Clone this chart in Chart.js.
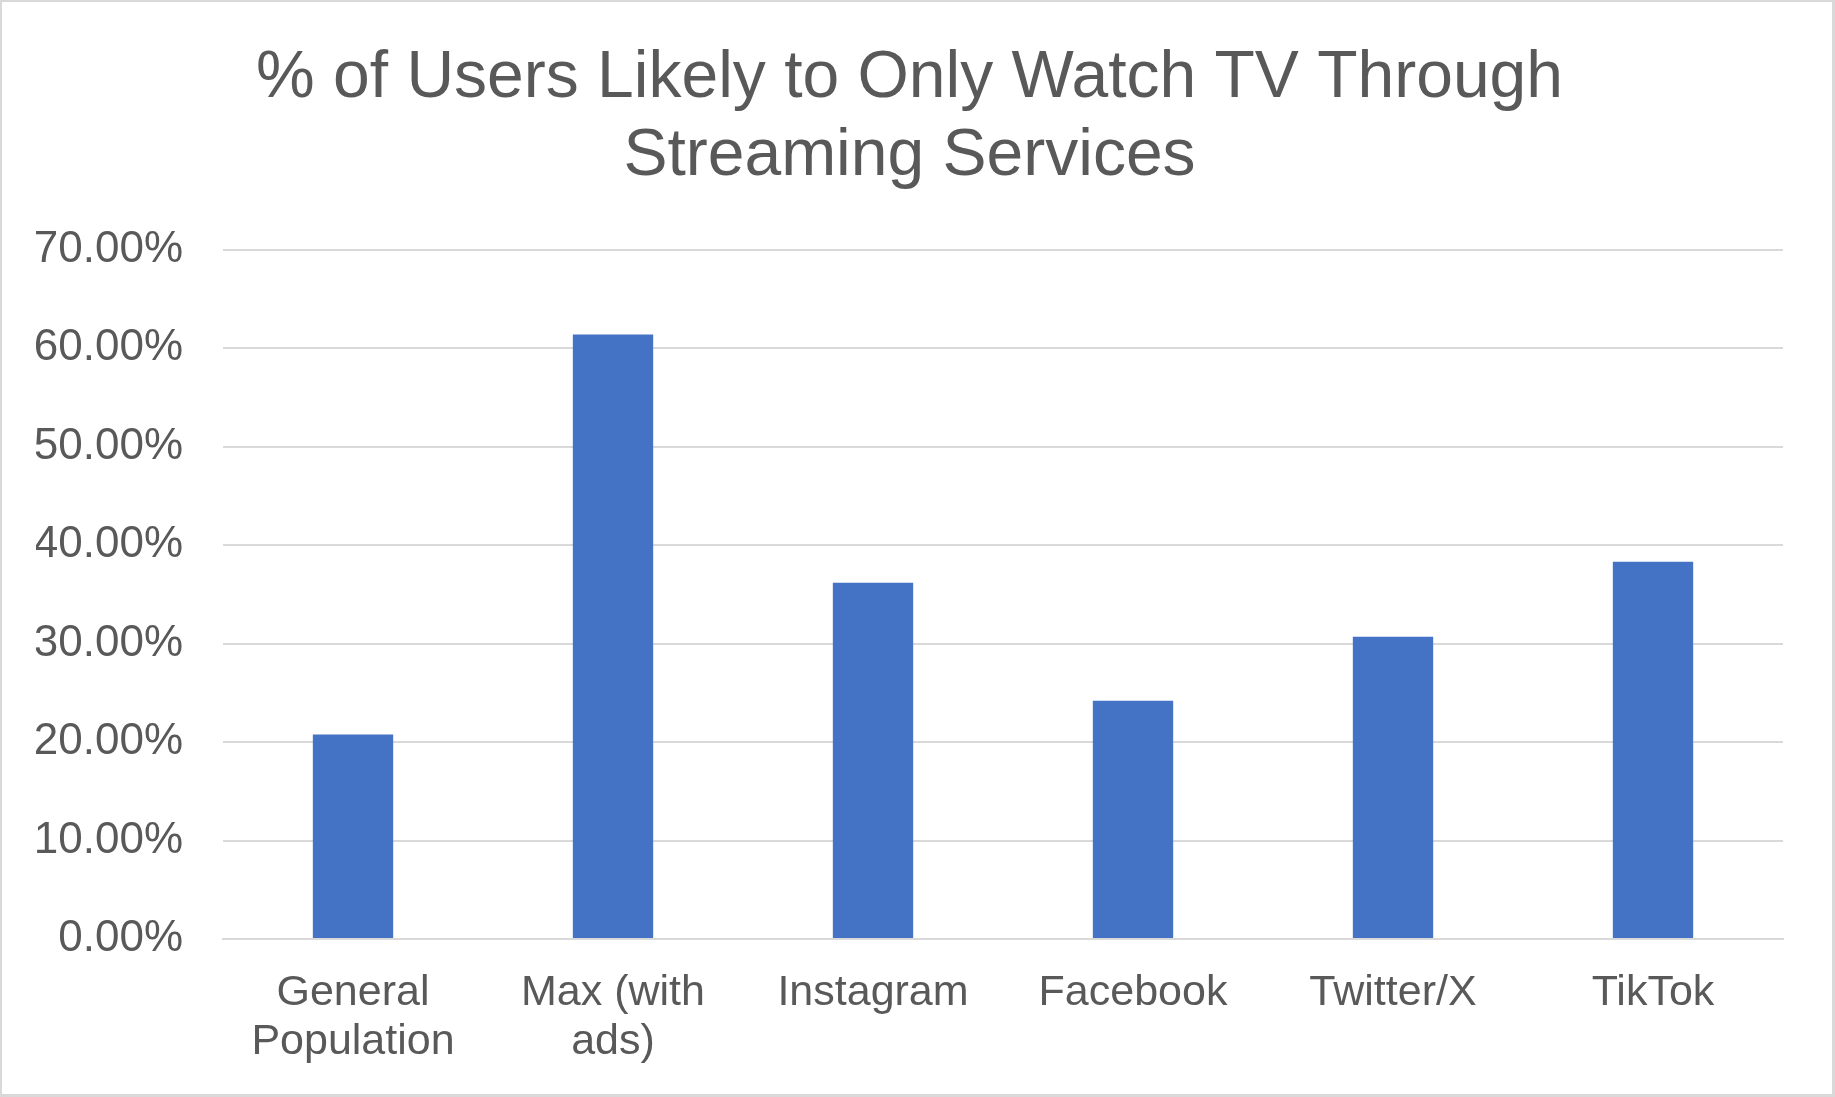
<!DOCTYPE html>
<html>
<head>
<meta charset="utf-8">
<script src="https://cdn.jsdelivr.net/npm/chart.js@4"></script>
<style>
  html, body { margin: 0; padding: 0; background: #fff; }
  #wrap { width: 1835px; height: 1097px; }
</style>
</head>
<body>
<div id="wrap"><canvas id="myBarChart"></canvas></div>
<script>
const categories = [["General", "Population"], ["Max (with", "ads)"], "Instagram", "Facebook", "Twitter/X", "TikTok"];
const values = [20.76, 61.4, 36.18, 24.2, 30.69, 38.31];
const tickLabels = ["0.00%", "10.00%", "20.00%", "30.00%", "40.00%", "50.00%", "60.00%", "70.00%"];

const textColor = "#595959";
const gridColor = "#d9d9d9";

// outer frame like the spreadsheet chart box
const frame = {
  id: "frame",
  afterDraw(chart) {
    const c = chart.ctx;
    c.save();
    c.strokeStyle = gridColor;
    c.lineWidth = 3;
    c.strokeRect(0.5, 0.5, chart.width - 2, chart.height - 2);
    c.restore();
  },
};

const ctx1 = document.getElementById("myBarChart");

new Chart(ctx1, {
  type: "bar",
  data: {
    labels: categories,
    datasets: [
      {
        label: "% of Users",
        data: values,
        backgroundColor: "#4472c4",
        barPercentage: 0.309,
        categoryPercentage: 1,
      },
    ],
  },
  plugins: [frame],
  options: {
    responsive: true,
    maintainAspectRatio: false,
    animation: false,
    layout: {
      padding: { left: 36, right: 52, top: 0, bottom: 0 },
    },
    plugins: {
      legend: { display: false },
      tooltip: { enabled: false },
      title: {
        display: true,
        text: ["% of Users Likely to Only Watch TV Through", "Streaming Services"],
        color: textColor,
        font: { family: "'Liberation Sans', Arial, sans-serif", size: 66, weight: "normal", lineHeight: 1.18 },
        padding: { top: 40, bottom: 54 },
      },
    },
    scales: {
      x: {
        grid: { display: false, drawTicks: false },
        border: { color: gridColor, width: 2 },
        ticks: {
          color: textColor,
          padding: 30,
          maxRotation: 0,
          autoSkip: false,
          font: { family: "'Liberation Sans', Arial, sans-serif", size: 43, lineHeight: 1.14 },
        },
      },
      y: {
        min: 0,
        max: 70,
        afterFit: (scale) => { scale.width = 187; },
        grid: { color: gridColor, lineWidth: 2, drawTicks: false },
        border: { display: false },
        ticks: {
          stepSize: 10,
          color: textColor,
          padding: 40,
          font: { family: "'Liberation Sans', Arial, sans-serif", size: 44, lineHeight: 1.2 },
          callback: (v) => tickLabels[Math.round(v / 10)],
        },
      },
    },
  },
});
</script>
</body>
</html>
